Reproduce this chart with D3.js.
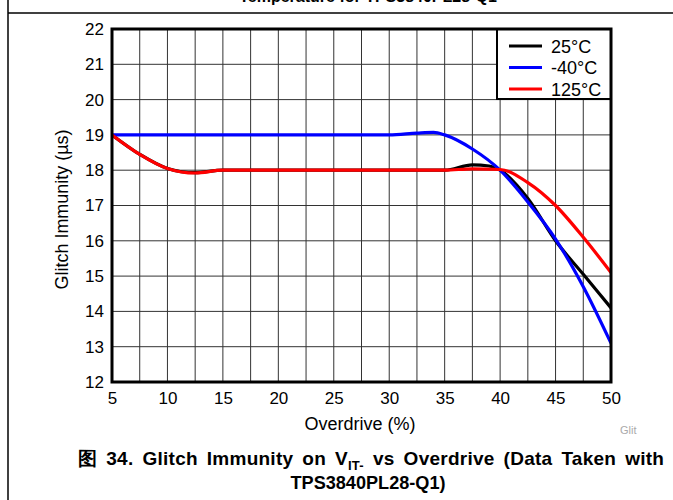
<!DOCTYPE html>
<html><head><meta charset="utf-8">
<script src="https://cdn.jsdelivr.net/npm/d3@7/dist/d3.min.js"></script>
<style>body{margin:0;background:#fff;}svg{display:block;font-family:Arial,"Liberation Sans",sans-serif;}</style>
</head><body>
<svg id="c" width="673" height="500"></svg>
<script>
const xTicks = [5,10,15,20,25,30,35,40,45,50];
const yTicks = [12,13,14,15,16,17,18,19,20,21,22];
const seriesNames = ["25°C","-40°C","125°C"];
const seriesColors = ["#000000","#0000ff","#ff0000"];
const x25 = [5,7.5,10,12.5,15,20,25,30,35,37.5,39,40,42.5,45,47.5,50];
const y25 = [19,18.45,18.05,17.93,18,18,18,18,18,18.15,18.12,18.0,17.2,16.0,15.05,14.1];
const xM40 = [5,10,15,20,25,30,32.5,34,35,37.5,40,42.5,45,47.5,50];
const yM40 = [19,19,19,19,19,19,19.05,19.07,19.0,18.6,18.0,17.1,16.05,14.7,13.1];
const x125 = [5,7.5,10,12.5,15,20,25,30,35,37.5,40,42.5,45,47.5,50];
const y125 = [19,18.45,18.05,17.92,18,18,18,18,18,18.04,18.02,17.65,17.0,16.1,15.1];

const svg = d3.select("#c");
const L=112,R=611,T=29,B=382;
const x = d3.scaleLinear().domain([5,50]).range([L,R]);
const y = d3.scaleLinear().domain([12,22]).range([B,T]);
const FF = "Arial,'Liberation Sans',sans-serif";

// frame
svg.append("line").attr("x1",8).attr("x2",8).attr("y1",0).attr("y2",500).attr("stroke","#000").attr("stroke-width",1.5);
svg.append("line").attr("x1",8).attr("x2",673).attr("y1",13).attr("y2",13).attr("stroke","#000").attr("stroke-width",1.5);
svg.append("text").attr("x",368).attr("y",2).attr("text-anchor","middle").attr("font-weight","bold").attr("font-size",16).text("Temperature for TPS3840PL28-Q1");

// grid
const gx = d3.range(5,50.01,2.5);
svg.append("g").selectAll("line").data(gx).join("line")
 .attr("x1",d=>x(d)).attr("x2",d=>x(d)).attr("y1",T).attr("y2",B).attr("stroke","#333").attr("stroke-width",1);
svg.append("g").selectAll("line").data(yTicks).join("line")
 .attr("y1",d=>y(d)).attr("y2",d=>y(d)).attr("x1",L).attr("x2",R).attr("stroke","#333").attr("stroke-width",1);

// axes labels via d3 axes
const ax = svg.append("g").attr("transform",`translate(0,${B})`).call(d3.axisBottom(x).tickValues(xTicks).tickSize(0).tickPadding(10));
ax.select(".domain").remove();
ax.selectAll("text").attr("font-size",17).attr("font-family",FF).attr("fill","#000");
const ay = svg.append("g").attr("transform",`translate(${L},0)`).call(d3.axisLeft(y).tickValues(yTicks).tickSize(0).tickPadding(8));
ay.select(".domain").remove();
ay.selectAll("text").attr("font-size",17).attr("font-family",FF).attr("fill","#000");

svg.append("text").attr("x",360).attr("y",430).attr("text-anchor","middle").attr("font-size",17.5)
  .attr("textLength",111).attr("lengthAdjust","spacingAndGlyphs").text("Overdrive (%)");
svg.append("text").attr("transform",`translate(68,${(T+B)/2+4}) rotate(-90)`).attr("text-anchor","middle").attr("font-size",17.5)
  .attr("textLength",160).attr("lengthAdjust","spacingAndGlyphs").text("Glitch Immunity (µs)");

// series
const line = d3.line().x(d=>x(d[0])).y(d=>y(d[1])).curve(d3.curveMonotoneX);
const data = [d3.zip(x25,y25), d3.zip(xM40,yM40), d3.zip(x125,y125)];
svg.append("defs").append("clipPath").attr("id","pc").append("rect").attr("x",L).attr("y",T).attr("width",R-L).attr("height",B-T);
const g = svg.append("g").attr("clip-path","url(#pc)");
[0,1,2].forEach(i=>{
  g.append("path").attr("d",line(data[i])).attr("fill","none").attr("stroke",seriesColors[i]).attr("stroke-width",3.2);
});

// legend
const lx=497, ly=T;
svg.append("rect").attr("x",lx).attr("y",ly).attr("width",R-lx).attr("height",70).attr("fill","#fff").attr("stroke","#000").attr("stroke-width",2);
seriesNames.forEach((n,i)=>{
  const yy = 46 + i*21.5;
  svg.append("line").attr("x1",509).attr("x2",542).attr("y1",yy).attr("y2",yy).attr("stroke",seriesColors[i]).attr("stroke-width",3.2);
  svg.append("text").attr("x",551).attr("y",yy+6.5).attr("font-size",18).text(n);
});

// plot border
svg.append("rect").attr("x",L).attr("y",T).attr("width",R-L).attr("height",B-T).attr("fill","none").attr("stroke","#000").attr("stroke-width",3);

svg.append("text").attr("x",620).attr("y",434).attr("font-size",11).attr("fill","#aaa").text("Glit");

// caption
const cap = svg.append("text").attr("x",78).attr("y",465).attr("font-size",19).attr("font-weight","bold")
  .attr("word-spacing",3.5).attr("letter-spacing",0.25);
cap.append("tspan").text("图 34. Glitch Immunity on V");
cap.append("tspan").attr("font-size",13).attr("dy",5).text("IT-");
cap.append("tspan").attr("dy",-5).text(" vs Overdrive (Data Taken with");
svg.append("text").attr("x",368).attr("y",489).attr("text-anchor","middle").attr("font-size",18).attr("font-weight","bold")
  .attr("textLength",155).attr("lengthAdjust","spacingAndGlyphs").text("TPS3840PL28-Q1)");
</script>
</body></html>
